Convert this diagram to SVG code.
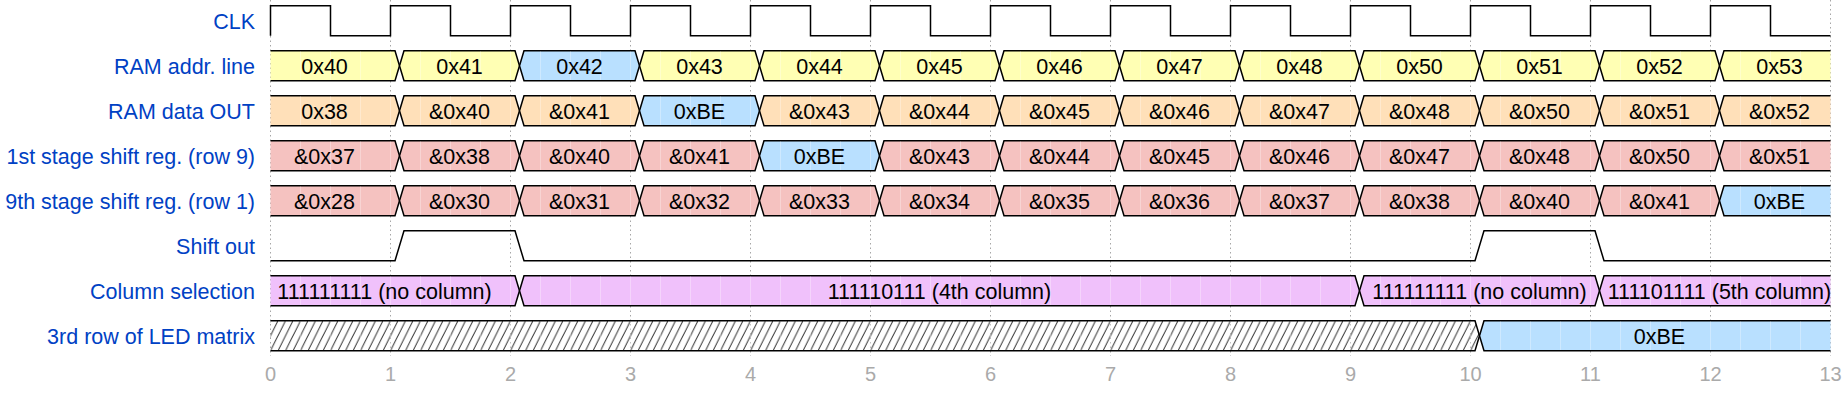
<svg xmlns="http://www.w3.org/2000/svg" xmlns:xlink="http://www.w3.org/1999/xlink" width="1848" height="397" viewBox="0 0 1848 397">
<style>
.lbl{font-family:"Liberation Sans",Arial,sans-serif;font-size:21.5px;fill:#0041c4;text-anchor:end}
.dt{font-family:"Liberation Sans",Arial,sans-serif;font-size:21.5px;fill:#000;text-anchor:middle}
.ax{font-family:"Liberation Sans",Arial,sans-serif;font-size:20px;fill:#aaa;text-anchor:middle}
.grid{stroke:#888;stroke-width:0.75;stroke-dasharray:1.5,3}
.w{fill:none;stroke:#000;stroke-width:1.5}
.s{stroke:#000;stroke-width:1.5;stroke-linejoin:miter}
.y{fill:#ffffb4}.o{fill:#ffe0b9}.b{fill:#b9e0ff}.r{fill:#f5c2c0}.p{fill:#f0c1fb}
.seam{fill:url(#seams)}
</style>
<defs>
<path id="first" d="M0,0 L124.5,0 L129,15 L124.5,30 L0,30"/>
<path id="mid" d="M9,15 L13.5,0 L124.5,0 L129,15 L124.5,30 L13.5,30 Z"/>
<path id="last" d="M120,0 L13.5,0 L9,15 L13.5,30 L120,30"/>
<pattern id="hatch" patternUnits="userSpaceOnUse" x="270.5" y="320.75" width="7.5" height="30">
<path d="M0,30 L15,0 M-7.5,30 L7.5,0" stroke="#000" stroke-width="0.9" fill="none"/>
</pattern>
<pattern id="seams" patternUnits="userSpaceOnUse" x="270" y="0" width="30" height="30">
<rect x="0" y="0" width="1" height="30" fill="#fff" fill-opacity="0.3"/>
</pattern>
</defs>
<rect width="1848" height="397" fill="#fff"/>
<g id="gridlines">
<path class="grid" d="M270.5,0V356M390.5,0V356M510.5,0V356M630.5,0V356M750.5,0V356M870.5,0V356M990.5,0V356M1110.5,0V356M1230.5,0V356M1350.5,0V356M1470.5,0V356M1590.5,0V356M1710.5,0V356M1830.5,0V356"/>
</g>
<g id="axis">
<text class="ax" x="270.5" y="381">0</text><text class="ax" x="390.5" y="381">1</text><text class="ax" x="510.5" y="381">2</text><text class="ax" x="630.5" y="381">3</text><text class="ax" x="750.5" y="381">4</text><text class="ax" x="870.5" y="381">5</text><text class="ax" x="990.5" y="381">6</text><text class="ax" x="1110.5" y="381">7</text><text class="ax" x="1230.5" y="381">8</text><text class="ax" x="1350.5" y="381">9</text><text class="ax" x="1470.5" y="381">10</text><text class="ax" x="1590.5" y="381">11</text><text class="ax" x="1710.5" y="381">12</text><text class="ax" x="1830.5" y="381">13</text>
</g>
<g id="clk">
<text class="lbl" x="255" y="28.75">CLK</text>
<path class="w" d="M270.5,35.75 V5.75 H330.5 V35.75 H390.5 V5.75 H450.5 V35.75 H510.5 V5.75 H570.5 V35.75 H630.5 V5.75 H690.5 V35.75 H750.5 V5.75 H810.5 V35.75 H870.5 V5.75 H930.5 V35.75 H990.5 V5.75 H1050.5 V35.75 H1110.5 V5.75 H1170.5 V35.75 H1230.5 V5.75 H1290.5 V35.75 H1350.5 V5.75 H1410.5 V35.75 H1470.5 V5.75 H1530.5 V35.75 H1590.5 V5.75 H1650.5 V35.75 H1710.5 V5.75 H1770.5 V35.75 H1830.5"/>
</g>
<g id="ram-addr">
<text class="lbl" x="255" y="73.75">RAM addr. line</text>
<use href="#first" class="s y" x="270.5" y="50.75"/>
<use href="#mid" class="s y" x="390.5" y="50.75"/>
<use href="#mid" class="s b" x="510.5" y="50.75"/>
<use href="#mid" class="s y" x="630.5" y="50.75"/>
<use href="#mid" class="s y" x="750.5" y="50.75"/>
<use href="#mid" class="s y" x="870.5" y="50.75"/>
<use href="#mid" class="s y" x="990.5" y="50.75"/>
<use href="#mid" class="s y" x="1110.5" y="50.75"/>
<use href="#mid" class="s y" x="1230.5" y="50.75"/>
<use href="#mid" class="s y" x="1350.5" y="50.75"/>
<use href="#mid" class="s y" x="1470.5" y="50.75"/>
<use href="#mid" class="s y" x="1590.5" y="50.75"/>
<use href="#last" class="s y" x="1710.5" y="50.75"/>
<rect class="seam" x="272" y="51.5" width="1558" height="28.5"/>
<text class="dt" y="73.5"><tspan x="324.5">0x40</tspan><tspan x="459.5">0x41</tspan><tspan x="579.5">0x42</tspan><tspan x="699.5">0x43</tspan><tspan x="819.5">0x44</tspan><tspan x="939.5">0x45</tspan><tspan x="1059.5">0x46</tspan><tspan x="1179.5">0x47</tspan><tspan x="1299.5">0x48</tspan><tspan x="1419.5">0x50</tspan><tspan x="1539.5">0x51</tspan><tspan x="1659.5">0x52</tspan><tspan x="1779.5">0x53</tspan></text>
</g>
<g id="ram-data">
<text class="lbl" x="255" y="118.75">RAM data OUT</text>
<use href="#first" class="s o" x="270.5" y="95.75"/>
<use href="#mid" class="s o" x="390.5" y="95.75"/>
<use href="#mid" class="s o" x="510.5" y="95.75"/>
<use href="#mid" class="s b" x="630.5" y="95.75"/>
<use href="#mid" class="s o" x="750.5" y="95.75"/>
<use href="#mid" class="s o" x="870.5" y="95.75"/>
<use href="#mid" class="s o" x="990.5" y="95.75"/>
<use href="#mid" class="s o" x="1110.5" y="95.75"/>
<use href="#mid" class="s o" x="1230.5" y="95.75"/>
<use href="#mid" class="s o" x="1350.5" y="95.75"/>
<use href="#mid" class="s o" x="1470.5" y="95.75"/>
<use href="#mid" class="s o" x="1590.5" y="95.75"/>
<use href="#last" class="s o" x="1710.5" y="95.75"/>
<rect class="seam" x="272" y="96.5" width="1558" height="28.5"/>
<text class="dt" y="118.5"><tspan x="324.5">0x38</tspan><tspan x="459.5">&amp;0x40</tspan><tspan x="579.5">&amp;0x41</tspan><tspan x="699.5">0xBE</tspan><tspan x="819.5">&amp;0x43</tspan><tspan x="939.5">&amp;0x44</tspan><tspan x="1059.5">&amp;0x45</tspan><tspan x="1179.5">&amp;0x46</tspan><tspan x="1299.5">&amp;0x47</tspan><tspan x="1419.5">&amp;0x48</tspan><tspan x="1539.5">&amp;0x50</tspan><tspan x="1659.5">&amp;0x51</tspan><tspan x="1779.5">&amp;0x52</tspan></text>
</g>
<g id="stage1">
<text class="lbl" x="255" y="163.75">1st stage shift reg. (row 9)</text>
<use href="#first" class="s r" x="270.5" y="140.75"/>
<use href="#mid" class="s r" x="390.5" y="140.75"/>
<use href="#mid" class="s r" x="510.5" y="140.75"/>
<use href="#mid" class="s r" x="630.5" y="140.75"/>
<use href="#mid" class="s b" x="750.5" y="140.75"/>
<use href="#mid" class="s r" x="870.5" y="140.75"/>
<use href="#mid" class="s r" x="990.5" y="140.75"/>
<use href="#mid" class="s r" x="1110.5" y="140.75"/>
<use href="#mid" class="s r" x="1230.5" y="140.75"/>
<use href="#mid" class="s r" x="1350.5" y="140.75"/>
<use href="#mid" class="s r" x="1470.5" y="140.75"/>
<use href="#mid" class="s r" x="1590.5" y="140.75"/>
<use href="#last" class="s r" x="1710.5" y="140.75"/>
<rect class="seam" x="272" y="141.5" width="1558" height="28.5"/>
<text class="dt" y="163.5"><tspan x="324.5">&amp;0x37</tspan><tspan x="459.5">&amp;0x38</tspan><tspan x="579.5">&amp;0x40</tspan><tspan x="699.5">&amp;0x41</tspan><tspan x="819.5">0xBE</tspan><tspan x="939.5">&amp;0x43</tspan><tspan x="1059.5">&amp;0x44</tspan><tspan x="1179.5">&amp;0x45</tspan><tspan x="1299.5">&amp;0x46</tspan><tspan x="1419.5">&amp;0x47</tspan><tspan x="1539.5">&amp;0x48</tspan><tspan x="1659.5">&amp;0x50</tspan><tspan x="1779.5">&amp;0x51</tspan></text>
</g>
<g id="stage9">
<text class="lbl" x="255" y="208.75">9th stage shift reg. (row 1)</text>
<use href="#first" class="s r" x="270.5" y="185.75"/>
<use href="#mid" class="s r" x="390.5" y="185.75"/>
<use href="#mid" class="s r" x="510.5" y="185.75"/>
<use href="#mid" class="s r" x="630.5" y="185.75"/>
<use href="#mid" class="s r" x="750.5" y="185.75"/>
<use href="#mid" class="s r" x="870.5" y="185.75"/>
<use href="#mid" class="s r" x="990.5" y="185.75"/>
<use href="#mid" class="s r" x="1110.5" y="185.75"/>
<use href="#mid" class="s r" x="1230.5" y="185.75"/>
<use href="#mid" class="s r" x="1350.5" y="185.75"/>
<use href="#mid" class="s r" x="1470.5" y="185.75"/>
<use href="#mid" class="s r" x="1590.5" y="185.75"/>
<use href="#last" class="s b" x="1710.5" y="185.75"/>
<rect class="seam" x="272" y="186.5" width="1558" height="28.5"/>
<text class="dt" y="208.5"><tspan x="324.5">&amp;0x28</tspan><tspan x="459.5">&amp;0x30</tspan><tspan x="579.5">&amp;0x31</tspan><tspan x="699.5">&amp;0x32</tspan><tspan x="819.5">&amp;0x33</tspan><tspan x="939.5">&amp;0x34</tspan><tspan x="1059.5">&amp;0x35</tspan><tspan x="1179.5">&amp;0x36</tspan><tspan x="1299.5">&amp;0x37</tspan><tspan x="1419.5">&amp;0x38</tspan><tspan x="1539.5">&amp;0x40</tspan><tspan x="1659.5">&amp;0x41</tspan><tspan x="1779.5">0xBE</tspan></text>
</g>
<g id="shift-out">
<text class="lbl" x="255" y="253.75">Shift out</text>
<path class="w" d="M270.5,260.75 H395 L404,230.75 H515 L524,260.75 H1475 L1484,230.75 H1595 L1604,260.75 H1830.5"/>
</g>
<g id="column-selection">
<text class="lbl" x="255" y="298.75">Column selection</text>
<path class="s p" d="M270.5,275.75 H515 L519.5,290.75 L515,305.75 H270.5"/>
<path class="s p" d="M519.5,290.75 L524,275.75 H1355 L1359.5,290.75 L1355,305.75 H524 Z"/>
<path class="s p" d="M1359.5,290.75 L1364,275.75 H1595 L1599.5,290.75 L1595,305.75 H1364 Z"/>
<path class="s p" d="M1830.5,275.75 H1604 L1599.5,290.75 L1604,305.75 H1830.5"/>
<rect class="seam" x="272" y="276.5" width="1558" height="28.5"/>
<text class="dt" y="298.5"><tspan x="384.5">111111111 (no column)</tspan><tspan x="939.5">111110111 (4th column)</tspan><tspan x="1479.5">111111111 (no column)</tspan><tspan x="1719.5">111101111 (5th column)</tspan></text>
</g>
<g id="led-row3">
<text class="lbl" x="255" y="343.75">3rd row of LED matrix</text>
<path class="s" fill="url(#hatch)" d="M270.5,320.75 H1475 L1479.5,335.75 L1475,350.75 H270.5"/>
<path class="s b" d="M1830.5,320.75 H1484 L1479.5,335.75 L1484,350.75 H1830.5"/>
<rect class="seam" x="272" y="321.5" width="1558" height="28.5"/>
<text class="dt" x="1659.5" y="343.5">0xBE</text>
</g>
</svg>
